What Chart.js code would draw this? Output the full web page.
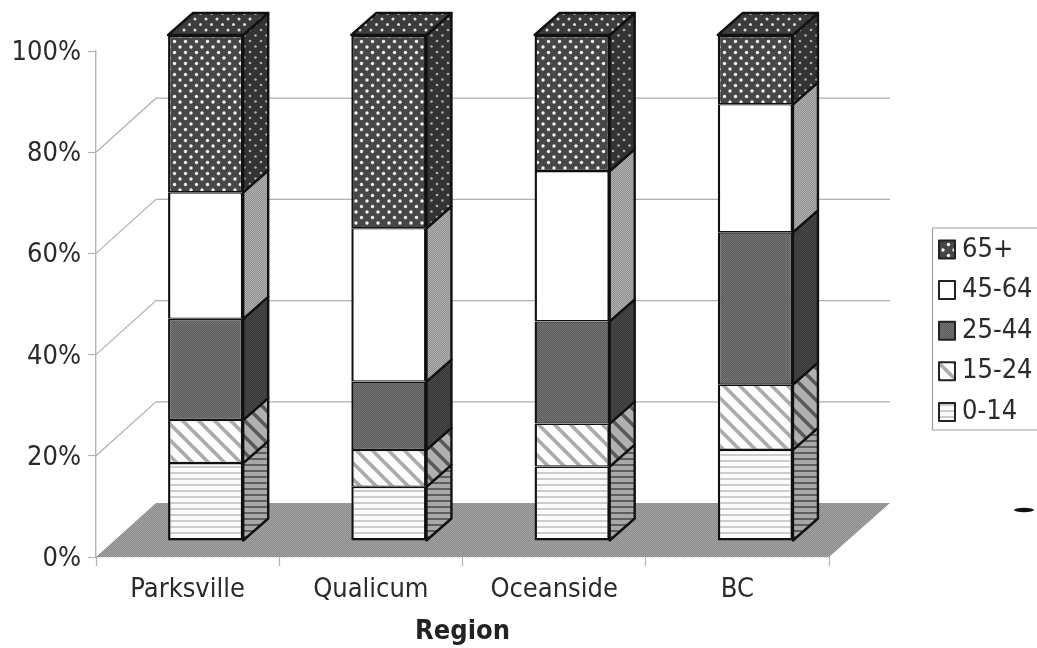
<!DOCTYPE html>
<html>
<head>
<meta charset="utf-8">
<script src="https://cdn.jsdelivr.net/npm/chart.js@4"></script>
<style>
  html, body { margin: 0; padding: 0; background: #fff; }
  canvas { display: block; }
</style>
</head>
<body>
<canvas id="chart" width="1037" height="648"></canvas>
<script>
const regions = ['Parksville', 'Qualicum', 'Oceanside', 'BC'];
const ageGroups = ['0-14', '15-24', '25-44', '45-64', '65+'];
const age0to14 = [15.4, 10.7, 14.7, 18];
const age15to24 = [8.5, 7.3, 8.5, 12.9];
const age25to44 = [20, 13.5, 20.2, 30.1];
const age45to64 = [25, 30.3, 29.7, 25.3];
const age65plus = [31.1, 38.2, 26.9, 13.7];
const axisTitle = 'Region';

const FONT = '"DejaVu Sans Condensed", "DejaVu Sans", sans-serif';
// offset of the bar front from the left wall, bar depth, and wall depth
const BAR_SHIFT = { x: 18, y: -16 };
const BAR_DEPTH = { x: 25, y: -22 };
const WALL = { x: 60, y: -54 };

function tile(w, h, bg, paint) {
  const c = document.createElement('canvas');
  c.width = w; c.height = h;
  const g = c.getContext('2d');
  g.fillStyle = bg;
  g.fillRect(0, 0, w, h);
  if (paint) paint(g);
  return document.createElement('canvas').getContext('2d').createPattern(c, 'repeat');
}

const dither = (a, b) => tile(2, 2, a, (g) => {
  g.fillStyle = b;
  g.fillRect(0, 0, 1, 1);
  g.fillRect(1, 1, 1, 1);
});

const dots = (bg, ink, r) => tile(11, 11, bg, (g) => {
  g.fillStyle = ink;
  for (const [x, y] of [[2.5, 2.5], [8, 8]]) {
    g.beginPath();
    g.arc(x, y, r, 0, Math.PI * 2);
    g.fill();
  }
});

const hlines = (bg, ink) => tile(6, 6, bg, (g) => {
  g.fillStyle = ink;
  g.fillRect(0, 2, 6, 2);
});

const diag = (bg, ink) => tile(16, 16, bg, (g) => {
  g.strokeStyle = ink;
  g.lineWidth = 3.6;
  for (const d of [-16, 0, 16]) {
    g.beginPath();
    g.moveTo(d - 2, -2);
    g.lineTo(d + 18, 18);
    g.stroke();
  }
});

const fronts = [hlines('#fbfbfb', '#cccccc'), diag('#fbfbfb', '#aaaaaa'), dither('#5c5c5c', '#747474'), '#ffffff', dots('#474747', '#f4f4f4', 1.7)];
const sides = [hlines('#a8a8a8', '#5e5e5e'), diag('#b0b0b0', '#5a5a5a'), dither('#383838', '#484848'), dither('#8c8c8c', '#b4b4b4'), dots('#333333', '#b0b0b0', 1.3)];
const topFace = dots('#3c3c3c', '#e0e0e0', 1.5);
const floorFill = dither('#8a8a8a', '#a4a4a4');

function poly(ctx, pts, fill, stroke, lw) {
  ctx.beginPath();
  pts.forEach(([x, y], i) => (i ? ctx.lineTo(x, y) : ctx.moveTo(x, y)));
  ctx.closePath();
  if (fill) { ctx.fillStyle = fill; ctx.fill(); }
  if (stroke) {
    ctx.strokeStyle = stroke;
    ctx.lineWidth = lw;
    ctx.lineJoin = 'round';
    ctx.stroke();
  }
}

const scene = {
  id: 'scene',
  beforeDatasetsDraw(chart) {
    const { ctx, chartArea: a, scales: { y } } = chart;
    // floor
    poly(ctx, [[a.left, a.bottom], [a.left + WALL.x, a.bottom + WALL.y],
      [a.right + WALL.x + 1, a.bottom + WALL.y], [a.right, a.bottom]], floorFill);
    // wall gridlines, the 100% one falls outside the picture
    ctx.strokeStyle = '#b0b0b0';
    ctx.lineWidth = 1.2;
    y.ticks.forEach((t) => {
      if (t.value === 0 || t.value === 100) return;
      const py = y.getPixelForValue(t.value);
      ctx.beginPath();
      ctx.moveTo(a.left, py);
      ctx.lineTo(a.left + WALL.x, py + WALL.y);
      ctx.lineTo(a.right + WALL.x + 1, py + WALL.y);
      ctx.stroke();
    });
    ctx.save();
    ctx.translate(BAR_SHIFT.x, BAR_SHIFT.y);
  },
  afterDatasetsDraw(chart) {
    const { ctx } = chart;
    ctx.restore();
    const d = BAR_DEPTH;
    chart.data.datasets.forEach((ds, i) => {
      chart.getDatasetMeta(i).data.forEach((el) => {
        const r = el.x + el.width / 2 + BAR_SHIFT.x;
        const l = el.x - el.width / 2 + BAR_SHIFT.x;
        const t = el.y + BAR_SHIFT.y;
        const b = el.base + BAR_SHIFT.y;
        poly(ctx, [[r, t], [r + d.x, t + d.y], [r + d.x, b + d.y], [r, b]], sides[i], '#111', 2.4);
        if (i === chart.data.datasets.length - 1) {
          poly(ctx, [[l, t], [l + d.x, t + d.y], [r + d.x, t + d.y], [r, t]], topFace, '#111', 2.4);
        }
      });
    });
  },
  afterDraw(chart) {
    const { ctx } = chart;
    // legend: frame runs off the right edge, oldest group on top
    ctx.strokeStyle = '#a0a0a0';
    ctx.lineWidth = 1.2;
    ctx.beginPath();
    ctx.moveTo(1037, 228);
    ctx.lineTo(932.5, 228);
    ctx.lineTo(932.5, 430);
    ctx.lineTo(1037, 430);
    ctx.stroke();
    ctx.font = `27px ${FONT}`;
    ctx.textAlign = 'left';
    ctx.textBaseline = 'middle';
    chart.data.datasets.slice().reverse().forEach((ds, i) => {
      const cy = 249.5 + i * 40.6;
      ctx.fillStyle = ds.backgroundColor;
      ctx.fillRect(939, cy - 9, 16, 18);
      ctx.strokeStyle = '#222';
      ctx.lineWidth = 2;
      ctx.strokeRect(939, cy - 9, 16, 18);
      ctx.fillStyle = '#2a2a2a';
      ctx.fillText(ds.label, 962, cy);
    });
    // scan speck at the right edge
    ctx.fillStyle = '#111';
    ctx.beginPath();
    ctx.ellipse(1024, 510, 10, 2.2, 0, 0, Math.PI * 2);
    ctx.fill();
  },
};

const seriesValues = [age0to14, age15to24, age25to44, age45to64, age65plus];

new Chart(document.getElementById('chart'), {
  type: 'bar',
  data: {
    labels: regions,
    datasets: ageGroups.map((name, i) => ({
      label: name,
      data: seriesValues[i],
      backgroundColor: fronts[i],
      borderColor: '#111',
      // neighbouring segments share an edge, so each gives half of it
      borderWidth: {
        left: 2.4,
        right: 2.4,
        top: i === ageGroups.length - 1 ? 2.4 : 1.3,
        bottom: i === 0 ? 2.4 : 1.3,
      },
      borderSkipped: false,
      barPercentage: 0.41,
      categoryPercentage: 1,
      clip: false,
    })),
  },
  options: {
    responsive: false,
    animation: false,
    layout: { padding: { top: 51, right: 208, left: 0, bottom: 0 } },
    scales: {
      x: {
        stacked: true,
        afterFit: (s) => { s.height = 91; },
        border: { color: '#a8a8a8', width: 1.2 },
        grid: { drawOnChartArea: false, color: '#b4b4b4', tickLength: 9, tickWidth: 1.2 },
        ticks: { color: '#2a2a2a', font: { family: FONT, size: 27 }, padding: 8, maxRotation: 0 },
        title: {
          display: true,
          text: axisTitle,
          color: '#222',
          font: { family: FONT, size: 27, weight: 'bold' },
          padding: { top: 0, bottom: 0 },
        },
      },
      y: {
        stacked: true,
        min: 0,
        max: 100,
        afterFit: (s) => { s.width = 96; },
        border: { color: '#b4b4b4', width: 1.4 },
        grid: { drawOnChartArea: false, color: '#b4b4b4', tickLength: 8, tickWidth: 1.2 },
        ticks: { stepSize: 20, color: '#2a2a2a', font: { family: FONT, size: 27 }, padding: 7, labelOffset: 2, callback: (v) => v + '%' },
      },
    },
    plugins: {
      tooltip: { enabled: false },
      legend: { display: false },
    },
  },
  plugins: [scene],
});
</script>
</body>
</html>
